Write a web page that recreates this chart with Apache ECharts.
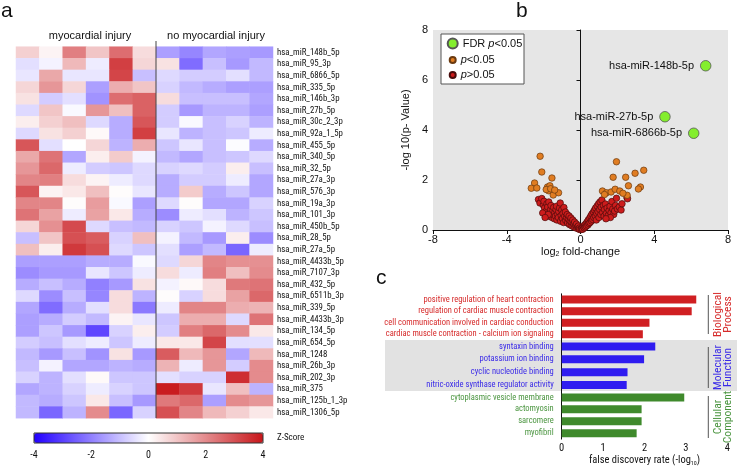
<!DOCTYPE html>
<html><head><meta charset="utf-8">
<script src="https://cdn.jsdelivr.net/npm/echarts@6/dist/echarts.min.js"></script>
<style>html,body{margin:0;padding:0;background:#fff}#c{width:737px;height:467px}</style>
</head><body><div id="c"></div>
<script>
const FONT = '"Liberation Sans", Arial, Helvetica, sans-serif';
const NARROW = 'Roboto, "Liberation Sans", sans-serif';
const NSTYLE = 'condensed';

// ---------- panel a: heatmap ----------
const panelLetters = ['a', 'b', 'c'];
const heatGroups = ['myocardial injury', 'no myocardial injury'];
const heatSamples = ['M1', 'M2', 'M3', 'M4', 'M5', 'M6', 'N1', 'N2', 'N3', 'N4', 'N5'];
const heatRows = ['hsa_miR_148b_5p', 'hsa_miR_95_3p', 'hsa_miR_6866_5p', 'hsa_miR_335_5p', 'hsa_miR_146b_3p',
  'hsa_miR_27b_5p', 'hsa_miR_30c_2_3p', 'hsa_miR_92a_1_5p', 'hsa_miR_455_5p', 'hsa_miR_340_5p', 'hsa_miR_32_5p',
  'hsa_miR_27a_3p', 'hsa_miR_576_3p', 'hsa_miR_19a_3p', 'hsa_miR_101_3p', 'hsa_miR_450b_5p', 'hsa_miR_28_5p',
  'hsa_miR_27a_5p', 'hsa_miR_4433b_5p', 'hsa_miR_7107_3p', 'hsa_miR_432_5p', 'hsa_miR_6511b_3p', 'hsa_miR_339_5p',
  'hsa_miR_4433b_3p', 'hsa_miR_134_5p', 'hsa_miR_654_5p', 'hsa_miR_1248', 'hsa_miR_26b_3p', 'hsa_miR_202_3p',
  'hsa_miR_375', 'hsa_miR_125b_1_3p', 'hsa_miR_1306_5p'];
const zScores = [
  [0.8, 0.2, 2.2, 1.0, 2.5, 0.6, -1.5, -1.9, -1.4, -1.5, -1.6],
  [-0.5, -0.2, 1.2, -0.3, 3.3, 0.7, 0.5, -2.3, -1.0, -1.6, -1.1],
  [-0.4, 1.5, -0.4, -0.4, 3.2, -1.0, -0.6, -0.8, -0.8, -0.5, -1.1],
  [0.7, 1.8, 0.7, -1.5, 1.4, 1.0, -0.7, -1.1, -1.3, -1.5, -1.5],
  [0.5, -0.8, -0.5, -1.7, 2.5, 2.7, 0.6, -1.0, -1.0, -1.0, -1.4],
  [-0.6, 1.0, -0.1, 1.8, 1.1, 2.7, -0.8, -1.6, -1.2, -1.2, -1.5],
  [0.3, 0.8, 1.1, -0.6, -1.3, 2.9, -0.8, -0.1, -1.0, -0.7, -1.2],
  [-0.6, 0.5, 0.8, 0.1, -1.3, 3.3, -0.4, -1.2, -1.0, -0.9, -0.3],
  [2.9, -0.5, 0.0, 0.7, -1.2, 1.4, -0.9, -0.4, -1.0, -0.05, -1.3],
  [1.5, 2.4, -1.4, 0.3, 0.9, -0.2, -1.1, -1.4, -1.0, -0.9, -0.6],
  [1.8, 2.6, -0.3, -0.8, -0.9, -0.6, -0.7, -0.6, -0.8, 0.3, -1.0],
  [2.1, 2.2, 0.6, 0.2, -0.3, -0.6, -1.3, -0.8, -0.8, -0.3, -1.4],
  [2.9, 0.2, 0.4, 1.1, 0.05, -0.4, -1.3, 0.9, -1.3, -0.9, -1.4],
  [2.1, 2.1, 0.05, 1.7, -0.1, -1.5, -0.6, 0.05, -1.4, -1.4, -0.7],
  [2.4, 1.6, -0.3, 1.6, 0.4, -1.3, -1.8, -0.3, -0.5, -1.2, -0.9],
  [0.7, 1.9, 3.1, -0.6, -1.0, -1.1, -0.7, -0.9, -0.2, -0.6, -1.0],
  [-1.0, 1.0, 3.0, 2.8, -0.7, 1.1, -0.2, -1.1, -1.6, 0.3, -1.8],
  [1.1, 0.3, 3.4, 3.0, -0.6, -0.9, -0.5, -1.5, -1.1, -2.4, -0.3],
  [-1.5, -1.5, -1.5, -1.3, -1.3, -0.1, -0.6, 0.7, 2.1, 1.9, 1.9],
  [-1.8, -1.6, -1.6, -0.4, -0.9, -0.3, 0.6, -0.3, 2.2, 1.1, 2.0],
  [-1.3, -1.0, -1.3, -2.0, -1.6, 0.5, -0.2, 0.1, 0.6, 2.3, 2.4],
  [-0.6, -1.8, -1.0, -1.9, 0.6, -1.2, 0.05, -0.7, 0.6, 1.6, 2.6],
  [-1.4, -2.3, -1.3, -0.5, 0.6, -2.1, -0.3, 2.1, 2.1, 1.4, 1.3],
  [-1.5, -1.3, -0.8, -1.1, 0.2, -0.4, -0.9, 1.4, 1.4, -0.6, 2.4],
  [-1.5, -0.9, -1.6, -2.9, -0.7, 0.3, -0.8, 2.2, 2.6, 2.0, 0.4],
  [-0.8, -1.0, -0.5, -0.3, -0.9, -0.3, 0.4, 0.4, 3.2, -0.5, -0.5],
  [-1.1, -1.6, -1.0, -1.7, 0.5, -1.6, 2.8, 1.2, 1.8, -1.4, 1.2],
  [-1.0, -0.2, -1.4, -1.4, -1.2, -1.3, 1.3, -0.3, 1.8, -0.8, 2.0],
  [-0.7, -1.2, -0.5, 0.1, -0.9, -0.9, -0.5, -0.7, -0.7, 3.6, 2.0],
  [-1.4, -1.2, -0.7, -0.3, -0.7, -0.9, 3.9, 3.4, -0.4, 1.1, -1.2],
  [-1.1, -1.3, -0.9, 0.4, -1.0, -1.6, 2.3, 2.6, -1.5, 2.0, 1.8],
  [-1.1, -2.4, -1.2, 2.0, -2.4, -0.7, 3.0, 2.1, 1.2, 0.8, 0.4]
];
const zTicks = [-4, -2, 0, 2, 4];
const zTitle = 'Z-Score';

// ---------- panel b: volcano ----------
const volcanoGreenX = [6.79, 4.58, 6.14];
const volcanoGreenY = [6.57, 4.53, 3.87];
const volcanoGreenNames = ['hsa-miR-148b-5p', 'hsa-miR-27b-5p', 'hsa-miR-6866b-5p'];
const volcanoOrange = [
  [-2.19, 2.95], [-2.1, 2.32], [-1.55, 2.08], [-2.49, 1.88], [-2.67, 1.67], [-2.37, 1.68], [-1.79, 1.72],
  [-1.66, 1.77], [-1.73, 1.57], [-1.48, 1.4], [-1.19, 1.49], [-1.86, 1.62], [-1.62, 1.65], [-1.4, 1.6],
  [1.95, 2.73], [1.77, 2.11], [2.45, 2.11], [2.96, 2.27], [3.43, 2.39], [2.6, 1.77], [3.25, 1.72], [3.14, 1.64],
  [1.19, 1.56], [1.41, 1.49], [1.66, 1.52], [1.88, 1.63], [2.13, 1.56], [2.53, 1.39], [1.3, 1.42], [2.3, 1.47]
];
const volcanoRed = [
  [-2.28, 1.22], [-2.2, 1.08], [-2.1, 1.26], [-2.02, 1.0], [-1.95, 0.88], [-1.98, 1.15], [-1.9, 0.62], [-1.86, 0.75],
  [-1.82, 1.05], [-1.78, 0.92], [-1.72, 1.12], [-1.7, 0.55], [-1.66, 0.7], [-1.62, 0.82], [-1.6, 0.98], [-1.55, 0.5],
  [-1.52, 0.62], [-1.5, 0.78], [-1.46, 0.9], [-1.42, 0.45], [-1.4, 0.68], [-1.36, 0.56], [-1.33, 0.82], [-1.3, 0.95],
  [-1.28, 0.4], [-1.25, 0.62], [-1.2, 0.5], [-1.18, 0.74], [-1.14, 0.88], [-1.1, 1.08], [-1.08, 0.35], [-1.05, 0.58],
  [-1.02, 0.8], [-0.98, 0.46], [-0.95, 0.66], [-0.92, 0.3], [-0.9, 0.9], [-0.86, 0.55], [-0.82, 0.72], [-0.8, 0.38],
  [-0.76, 0.5], [-0.72, 0.62], [-0.7, 0.28], [-0.66, 0.45], [-0.62, 0.56], [-0.6, 0.22], [-0.56, 0.36], [-0.52, 0.48],
  [-0.5, 0.18], [-0.46, 0.3], [-0.42, 0.4], [-0.4, 0.14], [-0.36, 0.24], [-0.32, 0.32], [-0.3, 0.1], [-0.26, 0.18],
  [-0.22, 0.24], [-0.2, 0.07], [-0.16, 0.12], [-0.12, 0.16], [-0.1, 0.04], [-0.06, 0.08], [-0.04, 0.02],
  [-2.05, 0.68], [-1.75, 0.62], [-1.92, 0.5],
  [0.04, 0.02], [0.07, 0.06], [0.1, 0.1], [0.12, 0.03], [0.16, 0.14], [0.2, 0.08], [0.22, 0.2], [0.26, 0.12],
  [0.3, 0.26], [0.32, 0.16], [0.36, 0.32], [0.4, 0.2], [0.42, 0.4], [0.46, 0.26], [0.5, 0.48], [0.52, 0.3],
  [0.56, 0.56], [0.6, 0.36], [0.62, 0.64], [0.66, 0.42], [0.7, 0.72], [0.72, 0.5], [0.76, 0.8], [0.8, 0.56],
  [0.82, 0.88], [0.86, 0.4], [0.88, 0.66], [0.9, 0.96], [0.95, 0.74], [0.98, 1.05], [1.0, 0.5], [1.04, 0.82],
  [1.06, 1.12], [1.1, 0.62], [1.12, 0.92], [1.16, 1.2], [1.2, 0.7], [1.24, 0.98], [1.28, 0.55], [1.3, 0.82],
  [1.35, 1.04], [1.4, 0.66], [1.44, 0.88], [1.5, 0.58], [1.55, 0.78], [1.6, 0.95], [1.65, 0.68], [1.7, 1.14],
  [1.75, 0.84], [1.8, 0.62], [1.85, 0.76], [1.9, 0.98], [1.95, 1.27], [2.0, 0.84], [2.1, 0.92], [2.2, 0.8],
  [2.25, 1.05], [2.52, 1.3], [2.55, 1.25], [1.62, 0.5], [1.38, 0.45]
];
const legendNames = ['FDR p<0.05', 'p<0.05', 'p>0.05'];
const volcanoXTitle = 'fold-change';
const volcanoYTitle = '-log 10(p- Value)';

// ---------- panel c: GO bars ----------
const bpTerms = ['positive regulation of heart contraction', 'regulation of cardiac muscle contraction',
  'cell communication involved in cardiac conduction', 'cardiac muscle contraction - calcium ion signaling'];
const bpValues = [3.25, 3.14, 2.12, 1.96];
const mfTerms = ['syntaxin binding', 'potassium ion binding', 'cyclic nucleotide binding',
  'nitric-oxide synthase regulator activity'];
const mfValues = [2.26, 1.99, 1.59, 1.57];
const ccTerms = ['cytoplasmic vesicle membrane', 'actomyosin', 'sarcomere', 'myofibril'];
const ccValues = [2.96, 1.93, 1.93, 1.81];
const goGroups = ['Biological\nProcess', 'Molecular\nFunction', 'Cellular\nComponent'];
const goColors = ['#d01f22', '#2f1cf0', '#3f8a2c'];
const goLabelColors = ['#d62a2a', '#3a2ae8', '#4b9540'];

// ---------- build ----------
const heatData = [];
zScores.forEach((row, r) => row.forEach((v, c) => heatData.push([c, r, v])));

const chart = echarts.init(document.getElementById('c'), null, { renderer: 'canvas' });

const barGrids = [
  { top: 293.8, height: 46.2 },
  { top: 340, height: 51.5 },
  { top: 391.5, height: 50.8 }
];
const barTerms = [bpTerms, mfTerms, ccTerms];
const barValues = [bpValues, mfValues, ccValues];

const grids = [
  { left: 16, top: 46.7, width: 257, height: 371.5 },
  { left: 34, top: 433, width: 229, height: 10 },
  { left: 433, top: 30, width: 295, height: 200, show: true, backgroundColor: '#e6e6e6', borderWidth: 0 }
].concat(barGrids.map(g => ({ left: 561.7, width: 165.6, top: g.top, height: g.height })));

const xAxes = [
  { gridIndex: 0, type: 'category', data: heatSamples, show: false },
  { gridIndex: 1, type: 'value', min: -4, max: 4, interval: 2, axisLine: { show: false }, axisTick: { show: false },
    splitLine: { show: false }, axisLabel: { fontSize: 10, fontFamily: NARROW, fontStyle: NSTYLE, color: '#111', margin: 7,
      formatter: v => zTicks.includes(v) ? String(v) : '' } },
  { gridIndex: 2, type: 'value', min: -8, max: 8, interval: 4, splitLine: { show: false },
    axisLine: { onZero: false, lineStyle: { color: '#111', width: 1 } },
    axisTick: { lineStyle: { color: '#111' }, length: 4 },
    axisLabel: { fontSize: 11, fontFamily: FONT, color: '#111', margin: 4 },
    name: '{n|log}{s|2}{n| ' + volcanoXTitle + '}', nameLocation: 'middle', nameGap: 15,
    nameTextStyle: { rich: { n: { fontSize: 11, fontFamily: FONT, color: '#111' },
      s: { fontSize: 7, fontFamily: FONT, color: '#111', padding: [6, 0, 0, 0] } } } }
];
barGrids.forEach((g, i) => {
  const last = i === 2;
  xAxes.push({ gridIndex: 3 + i, type: 'value', min: 0, max: 4, interval: 1, show: last, splitLine: { show: false },
    axisLine: { lineStyle: { color: '#111' } }, axisTick: { lineStyle: { color: '#111' }, length: 4 },
    axisLabel: { fontSize: 10.5, fontFamily: NARROW, fontStyle: NSTYLE, color: '#111', margin: 4 },
    name: last ? '{n|false discovery rate (-log}{s|10}{n|)}' : '', nameLocation: 'middle', nameGap: 15,
    nameTextStyle: { rich: { n: { fontSize: 10.5, fontFamily: NARROW, fontStyle: NSTYLE, color: '#111' },
      s: { fontSize: 6, fontFamily: NARROW, fontStyle: NSTYLE, color: '#111', padding: [5, 0, 0, 0] } } } });
});

const yAxes = [
  { gridIndex: 0, type: 'category', data: heatRows, inverse: true, position: 'right',
    axisLine: { show: false }, axisTick: { show: false },
    axisLabel: { interval: 0, fontSize: 8.8, fontFamily: NARROW, fontStyle: NSTYLE, color: '#111', margin: 4 } },
  { gridIndex: 1, type: 'value', show: false },
  { gridIndex: 2, type: 'value', min: 0, max: 8, interval: 2, splitLine: { show: false },
    axisLine: { lineStyle: { color: '#111', width: 1 } },
    axisTick: { lineStyle: { color: '#111' }, length: 4 },
    axisLabel: { fontSize: 11, fontFamily: FONT, color: '#111', margin: 5 },
    name: volcanoYTitle, nameLocation: 'middle', nameGap: 22,
    nameTextStyle: { fontSize: 11, fontFamily: FONT, color: '#111' } }
];
barGrids.forEach((g, i) => {
  yAxes.push({ gridIndex: 3 + i, type: 'category', data: barTerms[i], inverse: true,
    axisLine: { lineStyle: { color: '#111' } }, axisTick: { show: false },
    axisLabel: { interval: 0, fontSize: 8.5, fontFamily: NARROW, fontStyle: NSTYLE, color: goLabelColors[i], margin: 8 } });
});

function legendFmt(name) {
  const k = name.indexOf('p');
  const pre = name.slice(0, k), post = name.slice(k + 1);
  return (pre ? '{n|' + pre + '}' : '') + '{i|p}{n|' + post + '}';
}
const legRich = { n: { fontSize: 11, fontFamily: FONT, color: '#111' },
  i: { fontSize: 11, fontFamily: FONT, color: '#111', fontStyle: 'italic' } };
const legendSizes = [10, 6, 6];
const legendTops = [37.5, 54.5, 69.5];
const legends = legendNames.map((nm, i) => ({
  data: [nm], icon: 'circle', itemWidth: legendSizes[i], itemHeight: legendSizes[i], padding: 0,
  left: 451.7 - legendSizes[i] / 2, top: legendTops[i], orient: 'vertical', selectedMode: false, z: 10,
  formatter: legendFmt, textStyle: { rich: legRich }
}));

const series = [
  { type: 'heatmap', xAxisIndex: 0, yAxisIndex: 0, data: heatData, itemStyle: { borderWidth: 0 },
    emphasis: { disabled: true } },
  { type: 'scatter', xAxisIndex: 1, yAxisIndex: 1, data: [] },
  { name: legendNames[2], type: 'scatter', xAxisIndex: 2, yAxisIndex: 2, data: volcanoRed, symbolSize: 6.5,
    itemStyle: { color: '#cc1c1c', borderColor: '#4a0c0c', borderWidth: 0.7, opacity: 1 } },
  { name: legendNames[1], type: 'scatter', xAxisIndex: 2, yAxisIndex: 2, data: volcanoOrange, symbolSize: 6.5,
    itemStyle: { color: '#e07d22', borderColor: '#6a3a10', borderWidth: 0.7, opacity: 1 } },
  { name: legendNames[0], type: 'scatter', xAxisIndex: 2, yAxisIndex: 2, symbolSize: 10.5,
    data: volcanoGreenX.map((x, i) => ({ name: volcanoGreenNames[i], value: [x, volcanoGreenY[i]] })),
    itemStyle: { color: '#84ee2e', borderColor: '#555', borderWidth: 0.8, opacity: 1 },
    label: { show: true, position: 'left', distance: 6, formatter: p => p.name,
      fontSize: 11, fontFamily: FONT, color: '#111' } }
];
barGrids.forEach((g, i) => {
  series.push({ type: 'bar', xAxisIndex: 3 + i, yAxisIndex: 3 + i, data: barValues[i], barWidth: 8,
    itemStyle: { color: goColors[i] }, emphasis: { disabled: true } });
});

const graphics = [
  { type: 'rect', z: -10, shape: { x: 385, y: 340, width: 352, height: 51 }, style: { fill: '#e2e2e2' } },
  { type: 'line', z: 50, shape: { x1: 156, y1: 41, x2: 156, y2: 418 }, style: { stroke: '#444', lineWidth: 1 } },
  { type: 'rect', z: 50, shape: { x: 34, y: 433, width: 229, height: 10 }, style: { fill: 'none', stroke: '#333', lineWidth: 1 } },
  { type: 'text', z: 50, style: { x: 90, y: 36, text: heatGroups[0], fontSize: 11, fontFamily: FONT, fill: '#111', textAlign: 'center', textVerticalAlign: 'middle' } },
  { type: 'text', z: 50, style: { x: 216, y: 36, text: heatGroups[1], fontSize: 11, fontFamily: FONT, fill: '#111', textAlign: 'center', textVerticalAlign: 'middle' } },
  { type: 'text', z: 50, style: { x: 277, y: 438, text: zTitle, fontSize: 9, fontFamily: NARROW, fontStyle: NSTYLE, fill: '#111', textAlign: 'left', textVerticalAlign: 'middle' } },
  { type: 'text', z: 50, style: { x: 1, y: 11, text: panelLetters[0], fontSize: 21, fontFamily: FONT, fill: '#111', textAlign: 'left', textVerticalAlign: 'middle' } },
  { type: 'text', z: 50, style: { x: 516, y: 11, text: panelLetters[1], fontSize: 21, fontFamily: FONT, fill: '#111', textAlign: 'left', textVerticalAlign: 'middle' } },
  { type: 'text', z: 50, style: { x: 376, y: 278, text: panelLetters[2], fontSize: 21, fontFamily: FONT, fill: '#111', textAlign: 'left', textVerticalAlign: 'middle' } },
  { type: 'rect', z: 1, shape: { x: 441, y: 34, width: 83, height: 50 }, style: { fill: '#fff', stroke: '#555', lineWidth: 1 } }
];
const groupSpans = [[295, 334], [347, 388], [396, 438]];
groupSpans.forEach((s, i) => {
  graphics.push({ type: 'line', z: 50, shape: { x1: 708.3, y1: s[0], x2: 708.3, y2: s[1] }, style: { stroke: '#555', lineWidth: 1 } });
  graphics.push({ type: 'text', z: 50, x: 723, y: (s[0] + s[1]) / 2, rotation: Math.PI / 2,
    style: { x: 0, y: 0, text: goGroups[i], fontSize: 11.5, lineHeight: 10.5, fontFamily: NARROW, fontStyle: NSTYLE, fill: goLabelColors[i],
      textAlign: 'center', textVerticalAlign: 'middle' } });
});

chart.setOption({
  animation: false,
  backgroundColor: '#fff',
  grid: grids,
  xAxis: xAxes,
  yAxis: yAxes,
  legend: legends,
  visualMap: {
    type: 'continuous', min: -4, max: 4, seriesIndex: 0, orient: 'horizontal', left: 34, top: 433,
    itemWidth: 10, itemHeight: 229, calculable: false, padding: 0, text: null, hoverLink: false,
    inRange: { color: ['#2200ff', '#ffffff', '#c8161a'] }
  },
  series: series,
  graphic: graphics
});
</script></body></html>
